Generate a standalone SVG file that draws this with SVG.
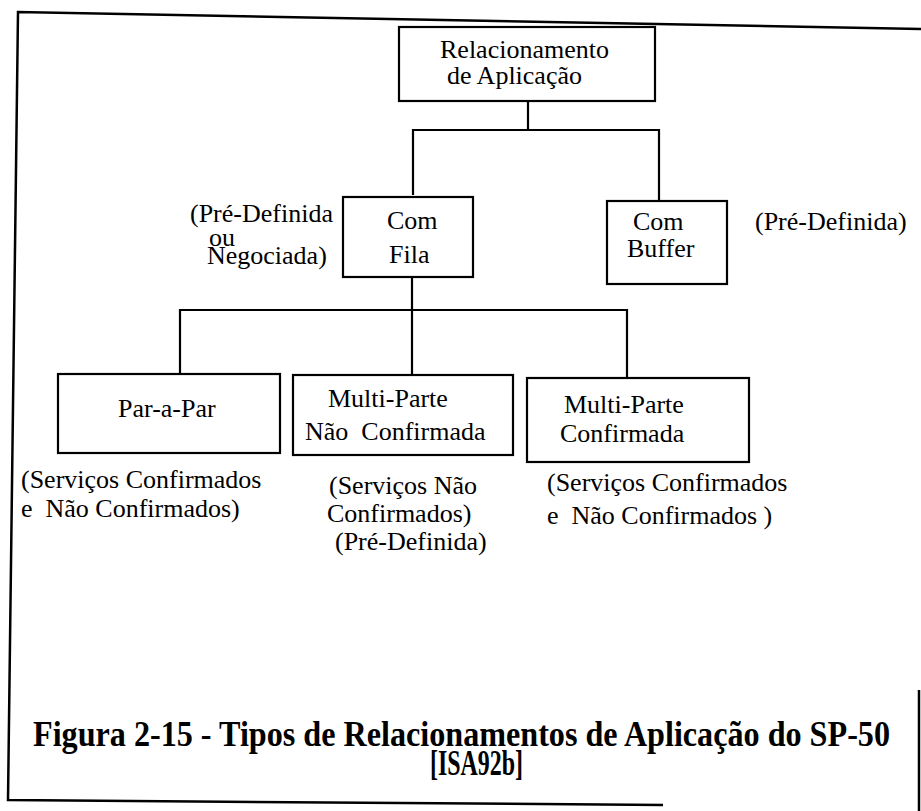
<svg xmlns="http://www.w3.org/2000/svg" width="921" height="811" viewBox="0 0 921 811">
<style>
.bx{fill:#fff;stroke:#000;stroke-width:2.2}
.cn{fill:none;stroke:#000;stroke-width:2.2}
.fr{fill:none;stroke:#000;stroke-width:2.5}
text{font-family:"Liberation Serif","Times New Roman",serif;font-size:26px;fill:#000}
.tt{font-weight:bold;font-size:35px}
</style>
<rect width="921" height="811" fill="#fff"/>
<g id="frame">
<path class="fr" d="M921,29 L18,12 L8,800 L663,805"/>
<path class="fr" d="M919,690 L919,811" stroke-width="1.5"/>
</g>
<g id="connectors">
<path class="cn" d="M528,100 V131 M413,195 V130 H659 V201"/>
<path class="cn" d="M412,277 V375 M180,374 V310 H627 V378"/>
</g>
<g id="n-root">
<rect class="bx" x="399" y="27" width="256" height="74"/>
<text x="440" y="58">Relacionamento</text>
<text x="447" y="84">de Aplicação</text>
</g>
<g id="n-fila">
<rect class="bx" x="343" y="197" width="130" height="80"/>
<text x="387" y="229">Com</text>
<text x="389" y="263">Fila</text>
</g>
<g id="n-buffer">
<rect class="bx" x="607" y="201" width="120" height="83"/>
<text x="633" y="230">Com</text>
<text x="627" y="257">Buffer</text>
</g>
<g id="n-par">
<rect class="bx" x="58" y="374" width="222" height="79"/>
<text x="118" y="417">Par-a-Par</text>
</g>
<g id="n-mpnc">
<rect class="bx" x="293" y="375" width="220" height="80"/>
<text x="328" y="407">Multi-Parte</text>
<text x="305" y="440" xml:space="preserve">Não  Confirmada</text>
</g>
<g id="n-mpc">
<rect class="bx" x="527" y="378" width="222" height="84"/>
<text x="564" y="413">Multi-Parte</text>
<text x="560" y="442">Confirmada</text>
</g>
<g id="labels">
<text x="190" y="222">(Pré-Definida</text>
<text x="209" y="246">ou</text>
<text x="207" y="264">Negociada)</text>
<text x="755" y="230">(Pré-Definida)</text>
<text x="21" y="488">(Serviços Confirmados</text>
<text x="21" y="517" xml:space="preserve">e  Não Confirmados)</text>
<text x="329" y="494">(Serviços Não</text>
<text x="327" y="522">Confirmados)</text>
<text x="335" y="550">(Pré-Definida)</text>
<text x="547" y="491">(Serviços Confirmados</text>
<text x="547" y="524" xml:space="preserve">e  Não Confirmados )</text>
</g>
<g id="caption">
<text class="tt" x="33" y="746" textLength="857" lengthAdjust="spacingAndGlyphs">Figura 2-15 - Tipos de Relacionamentos de Aplicação do SP-50</text>
<text class="tt" x="430" y="775" textLength="93" lengthAdjust="spacingAndGlyphs">[ISA92b]</text>
</g>
</svg>
